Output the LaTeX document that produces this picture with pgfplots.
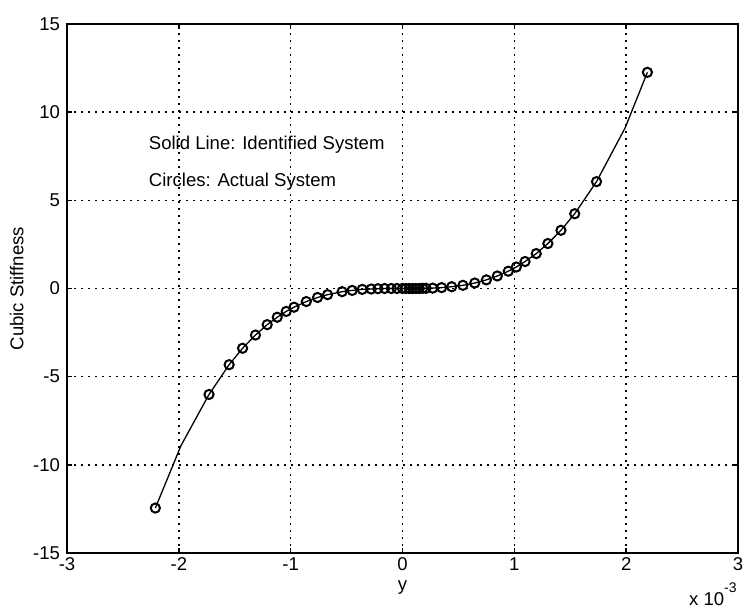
\documentclass[border=0pt]{standalone}
\usepackage{fontspec}
\setmainfont{Liberation Sans}
\usepackage{pgfplots}
\pgfplotsset{compat=1.18}

% actual system (circles), y in units of 1e-3
\pgfplotstableread{
x y
-2.21 -12.45
-1.73 -6.01
-1.55 -4.32
-1.43 -3.39
-1.315 -2.64
-1.21 -2.05
-1.12 -1.63
-1.04 -1.30
-0.97 -1.06
-0.86 -0.74
-0.76 -0.51
-0.67 -0.35
-0.54 -0.18
-0.45 -0.11
-0.36 -0.05
-0.28 -0.03
-0.22 -0.01
-0.16 0
-0.10 0
-0.05 0
0 0
0.03 0
0.06 0
0.09 0
0.12 0
0.15 0
0.18 0.01
0.21 0.01
0.27 0.02
0.35 0.05
0.44 0.10
0.54 0.18
0.646 0.31
0.75 0.49
0.848 0.71
0.946 0.98
1.018 1.22
1.096 1.53
1.196 1.98
1.30 2.55
1.417 3.30
1.54 4.24
1.735 6.06
2.19 12.26
}\actual

% identified system (solid line)
\pgfplotstableread{
x y
-2.21 -12.45
-1.98 -8.90
-1.73 -6.01
-1.55 -4.32
-1.43 -3.39
-1.315 -2.64
-1.21 -2.05
-1.12 -1.63
-1.04 -1.30
-0.97 -1.06
-0.86 -0.74
-0.76 -0.51
-0.67 -0.35
-0.54 -0.18
-0.45 -0.11
-0.36 -0.05
-0.28 -0.03
-0.22 -0.01
-0.10 0
0 0
0.12 0
0.21 0.01
0.35 0.05
0.44 0.10
0.54 0.18
0.646 0.31
0.75 0.49
0.848 0.71
0.946 0.98
1.018 1.22
1.096 1.53
1.196 1.98
1.30 2.55
1.417 3.30
1.54 4.24
1.735 6.06
1.99 9.10
2.19 12.26
}\identified

\begin{document}
\begin{tikzpicture}
% page frame, same margins as the reference
\useasboundingbox (-33.5bp,-27.5bp) rectangle (339bp,276.5bp);
\begin{axis}[
    at={(0,0)}, anchor=south west,
    width=335.5bp, height=264.5bp,
    scale only axis,
    xmin=-3, xmax=3,
    ymin=-15, ymax=15,
    xtick={-3,-2,...,3},
    ytick={-15,-10,...,15},
    grid=major,
    grid style={black, line width=0.8bp, dash pattern=on 0.8bp off 2.7bp},
    axis line style={line width=1bp},
    tick style={black, line width=0.7bp},
    tick align=inside,
    major tick length=2.5bp,
    font=\fontsize{9.3}{11}\selectfont,
    ticklabel style={font=\fontsize{9.3}{11}\selectfont},
    /pgf/number format/assume math mode=true,
    xticklabel={\pgfmathprintnumber[assume math mode=true]{\tick}},
    yticklabel={\pgfmathprintnumber[assume math mode=true]{\tick}},
    xticklabel style={yshift=1bp},
    xlabel={y},
    ylabel={Cubic Stiffness},
    xlabel style={at={(axis description cs:0.5,0)}, anchor=base, yshift=-18.8bp},
    ylabel style={yshift=-2bp},
    clip=false,
]
\addplot[black, line width=0.65bp, mark=none] table[x=x, y=y] {\identified};
\addplot[black, only marks, mark=o, mark size=2.3bp, mark options={line width=1bp}] table[x=x, y=y] {\actual};

\node[anchor=west, font=\fontsize{9.3}{11}\selectfont] at (axis cs:-2.33,8.13) {Solid Line: Identified System};
\node[anchor=west, font=\fontsize{9.3}{11}\selectfont] at (axis cs:-2.33,6.08) {Circles: Actual System};
\node[anchor=base east, font=\fontsize{9.3}{11}\selectfont, inner sep=0pt] at ([yshift=-26bp, xshift=-0.5bp]rel axis cs:1,0) {x 10\raisebox{6.5bp}{\fontsize{7}{8}\selectfont -3}};
\end{axis}
\end{tikzpicture}
\end{document}
